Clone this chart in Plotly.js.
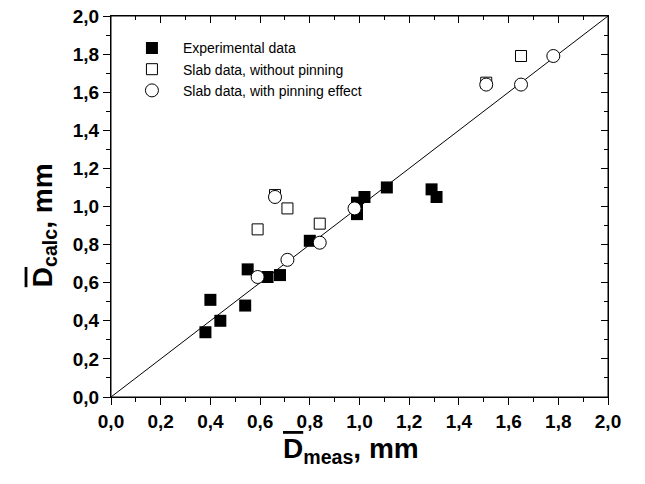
<!DOCTYPE html>
<html>
<head>
<meta charset="utf-8">
<script src="https://cdn.plot.ly/plotly-3.0.1.min.js"></script>
<style>html,body{margin:0;padding:0;background:#fff;}#chart{width:645px;height:484px;}</style>
</head>
<body>
<div id="chart"></div>
<script>
// Experimental data (filled squares)
const expX = [0.38, 0.40, 0.44, 0.54, 0.55, 0.63, 0.68, 0.80, 0.99, 0.99, 1.02, 1.11, 1.29, 1.31];
const expY = [0.34, 0.51, 0.40, 0.48, 0.67, 0.63, 0.64, 0.82, 0.96, 1.02, 1.05, 1.10, 1.09, 1.05];
// Slab data, without pinning (open squares)
const slabNoPinX = [0.59, 0.66, 0.71, 0.84, 1.51, 1.65];
const slabNoPinY = [0.88, 1.06, 0.99, 0.91, 1.65, 1.79];
// Slab data, with pinning effect (open circles)
const slabPinX = [0.59, 0.66, 0.71, 0.84, 0.98, 1.51, 1.65, 1.78];
const slabPinY = [0.63, 1.05, 0.72, 0.81, 0.99, 1.64, 1.64, 1.79];
// Reference line y = x
const lineX = [0, 2];
const lineY = [0, 2];
// Legend labels and axis titles
const seriesNames = ["Experimental data", "Slab data, without pinning", "Slab data, with pinning effect"];
const xTitle = "<span style=\"text-decoration:overline\">D</span><sub>meas</sub>, mm";
const yTitle = "<span style=\"text-decoration:overline\">D</span><sub>calc</sub>, mm";

const fam = "Liberation Sans, Arial, sans-serif";
const traces = [
  {x: lineX, y: lineY, xaxis: "x", yaxis: "y", mode: "lines", line: {color: "#000", width: 1}, showlegend: false, hoverinfo: "skip"},
  {x: expX, y: expY, xaxis: "x2", yaxis: "y2", mode: "markers", name: seriesNames[0],
   marker: {symbol: "square", size: 12, color: "#000", line: {width: 0}}},
  {x: slabNoPinX, y: slabNoPinY, xaxis: "x2", yaxis: "y2", mode: "markers", name: seriesNames[1],
   marker: {symbol: "square", size: 11, color: "#fff", line: {color: "#000", width: 1}}},
  {x: slabPinX, y: slabPinY, xaxis: "x2", yaxis: "y2", mode: "markers", name: seriesNames[2],
   marker: {symbol: "circle", size: 13, color: "#fff", line: {color: "#000", width: 1}}}
];

const tickFont = {family: fam, size: 19, color: "#000", weight: "bold"};
const titleFont = {family: fam, size: 28, color: "#000", weight: "bold"};

function minorSpec(dir) {
  return {dtick: 0.1, ticks: dir, ticklen: 4, tickwidth: 1, tickcolor: "#000", showgrid: false};
}
function mainAxis(anchor) {
  return {
    domain: [0, 1], anchor: anchor, mirror: true,
    range: [0, 2], dtick: 0.2, tick0: 0, tickformat: ".1f",
    showgrid: false, zeroline: false, showline: true, linecolor: "#000", linewidth: 1,
    ticks: "outside", ticklen: 7, tickwidth: 1, tickcolor: "#000",
    minor: minorSpec("outside"), tickfont: tickFont, fixedrange: true
  };
}
function mirrorAxis(anchor, side) {
  return {
    domain: [0, 1], anchor: anchor, side: side,
    range: [0, 2], dtick: 0.2, tick0: 0, showticklabels: false,
    showgrid: false, zeroline: false, showline: true, linecolor: "#000", linewidth: 1,
    ticks: "inside", ticklen: 7, tickwidth: 1, tickcolor: "#000",
    minor: minorSpec("inside"), fixedrange: true
  };
}

const layout = {
  width: 645, height: 484,
  margin: {l: 111, r: 37, t: 16, b: 87},
  paper_bgcolor: "#fff", plot_bgcolor: "rgba(0,0,0,0)",
  separators: ", ",
  showlegend: true,
  legend: {x: 0.02, y: 0.957, xanchor: "left", yanchor: "top", bgcolor: "rgba(0,0,0,0)",
           borderwidth: 0, itemwidth: 52, tracegroupgap: 0,
           font: {family: fam, size: 14, color: "#000"}},
  xaxis: mainAxis("y"),
  yaxis: mainAxis("x"),
  xaxis2: mirrorAxis("y2", "top"),
  yaxis2: mirrorAxis("x2", "right"),
  shapes: [
    {type: "rect", xref: "paper", yref: "paper", x0: 0, x1: 1, y0: 0, y1: 1,
     line: {color: "#000", width: 1}, fillcolor: "rgba(0,0,0,0)", layer: "above"}
  ],
  annotations: [
    {text: xTitle, xref: "paper", yref: "paper", x: 0.482, y: -0.14, xanchor: "center", yanchor: "middle",
     showarrow: false, font: titleFont},
    {text: yTitle, xref: "paper", yref: "paper", x: -0.134, y: 0.452, xanchor: "center", yanchor: "middle",
     textangle: -90, showarrow: false, font: titleFont}
  ]
};

Plotly.newPlot("chart", traces, layout, {displayModeBar: false, staticPlot: true});
</script>
</body>
</html>
